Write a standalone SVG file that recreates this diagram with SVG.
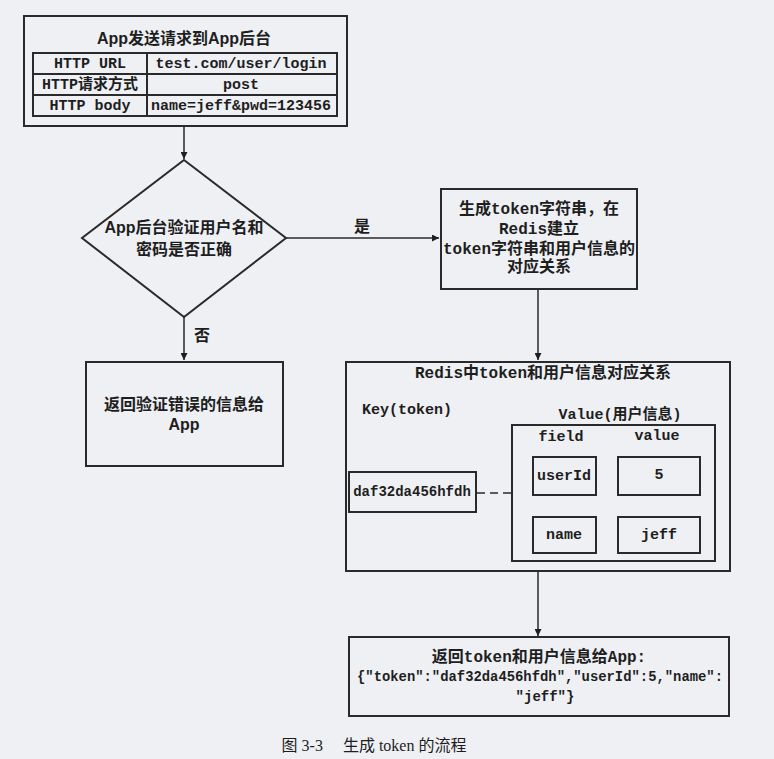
<svg xmlns="http://www.w3.org/2000/svg" width="774" height="759" viewBox="0 0 774 759">
<style>
.bx{fill:none;stroke:#2a2a2a;stroke-width:2}
.ln{fill:none;stroke:#2a2a2a;stroke-width:1.5}
.t{font-family:"Liberation Mono","Noto Sans CJK SC",monospace;font-weight:bold;fill:#1e1e1e;text-anchor:middle;dominant-baseline:central}
.s{font-family:"Liberation Sans","Noto Sans CJK SC",sans-serif;font-weight:bold;fill:#1e1e1e;text-anchor:middle;dominant-baseline:central}
.c{font-family:"Liberation Serif","Noto Sans CJK SC",serif;fill:#1e1e1e;text-anchor:middle;dominant-baseline:central}
</style>
<defs>
<marker id="ah" viewBox="0 0 10 10" refX="10" refY="5" markerWidth="7" markerHeight="7" markerUnits="userSpaceOnUse" orient="auto">
<path d="M0,0 L10,5 L0,10 z" fill="#1e1e1e"/>
</marker>
</defs>
<rect width="774" height="759" fill="#eef0f4"/>

<g id="connectors">
<line class="ln" x1="184" y1="126" x2="184" y2="159" marker-end="url(#ah)"/>
<line class="ln" x1="286" y1="238" x2="439" y2="238" marker-end="url(#ah)"/>
<line class="ln" x1="184" y1="317" x2="184" y2="360" marker-end="url(#ah)"/>
<line class="ln" x1="538" y1="289" x2="538" y2="360" marker-end="url(#ah)"/>
<line class="ln" x1="538" y1="571" x2="538" y2="636" marker-end="url(#ah)"/>
<line class="ln" x1="477" y1="493" x2="511" y2="493" stroke-dasharray="8,5"/>
<text class="s" x="362" y="226" font-size="16">是</text>
<text class="s" x="202" y="335" font-size="16">否</text>
</g>

<g id="request">
<rect class="bx" x="24" y="16" width="323" height="110"/>
<text class="s" x="184" y="38" font-size="16">App发送请求到App后台</text>
<rect class="bx" x="33" y="53" width="304" height="63"/>
<line class="bx" x1="33" y1="74" x2="337" y2="74"/>
<line class="bx" x1="33" y1="95" x2="337" y2="95"/>
<line class="bx" x1="147" y1="53" x2="147" y2="116"/>
<text class="t" x="90" y="64" font-size="15">HTTP URL</text>
<text class="t" x="90" y="85" font-size="15">HTTP请求方式</text>
<text class="t" x="90" y="106" font-size="15">HTTP body</text>
<text class="t" x="241" y="64" font-size="15">test.com/user/login</text>
<text class="t" x="241" y="85" font-size="15">post</text>
<text class="t" x="241" y="106" font-size="15">name=jeff&amp;pwd=123456</text>
</g>

<g id="check">
<polygon class="bx" points="184,160 286,238 184,317 82,238" stroke-width="1.5"/>
<text class="s" x="184" y="227" font-size="16">App后台验证用户名和</text>
<text class="s" x="184" y="249" font-size="16">密码是否正确</text>
</g>

<g id="generate">
<rect class="bx" x="441" y="189" width="196" height="100"/>
<text class="t" x="539" y="210" font-size="16">生成token字符串，在</text>
<text class="t" x="539" y="230" font-size="16">Redis建立</text>
<text class="t" x="539" y="250" font-size="16">token字符串和用户信息的</text>
<text class="t" x="539" y="268" font-size="16">对应关系</text>
</g>

<g id="error">
<rect class="bx" x="86" y="362" width="197" height="104"/>
<text class="s" x="184" y="404" font-size="16">返回验证错误的信息给</text>
<text class="s" x="184" y="424" font-size="16">App</text>
</g>

<g id="redis">
<rect class="bx" x="346" y="362" width="384" height="209"/>
<text class="t" x="543" y="374" font-size="16">Redis中token和用户信息对应关系</text>
<text class="t" x="407" y="410" font-size="15">Key(token)</text>
<text class="t" x="620" y="415" font-size="15">Value(用户信息)</text>
<rect class="bx" x="512" y="425" width="203" height="136"/>
<text class="t" x="561" y="437" font-size="15">field</text>
<text class="t" x="657" y="436" font-size="15">value</text>
<rect class="bx" x="533" y="457" width="63" height="38"/>
<text class="t" x="564" y="476" font-size="15">userId</text>
<rect class="bx" x="618" y="457" width="82" height="38"/>
<text class="t" x="659" y="475" font-size="15">5</text>
<rect class="bx" x="533" y="517" width="63" height="36"/>
<text class="t" x="564" y="535" font-size="15">name</text>
<rect class="bx" x="618" y="517" width="82" height="36"/>
<text class="t" x="659" y="535" font-size="15">jeff</text>
<rect class="bx" x="349" y="472" width="127" height="40"/>
<text class="t" x="412" y="492" font-size="14">daf32da456hfdh</text>
</g>

<g id="result">
<rect class="bx" x="349" y="637" width="380" height="79"/>
<text class="t" x="539" y="658" font-size="16">返回token和用户信息给App:</text>
<text class="t" x="540" y="677" font-size="14" textLength="366" lengthAdjust="spacingAndGlyphs">{"token":"daf32da456hfdh","userId":5,"name":</text>
<text class="t" x="545" y="697" font-size="14">"jeff"}</text>
</g>

<text class="c" x="374" y="745" font-size="16">图 3-3　 生成 token 的流程</text>
</svg>
